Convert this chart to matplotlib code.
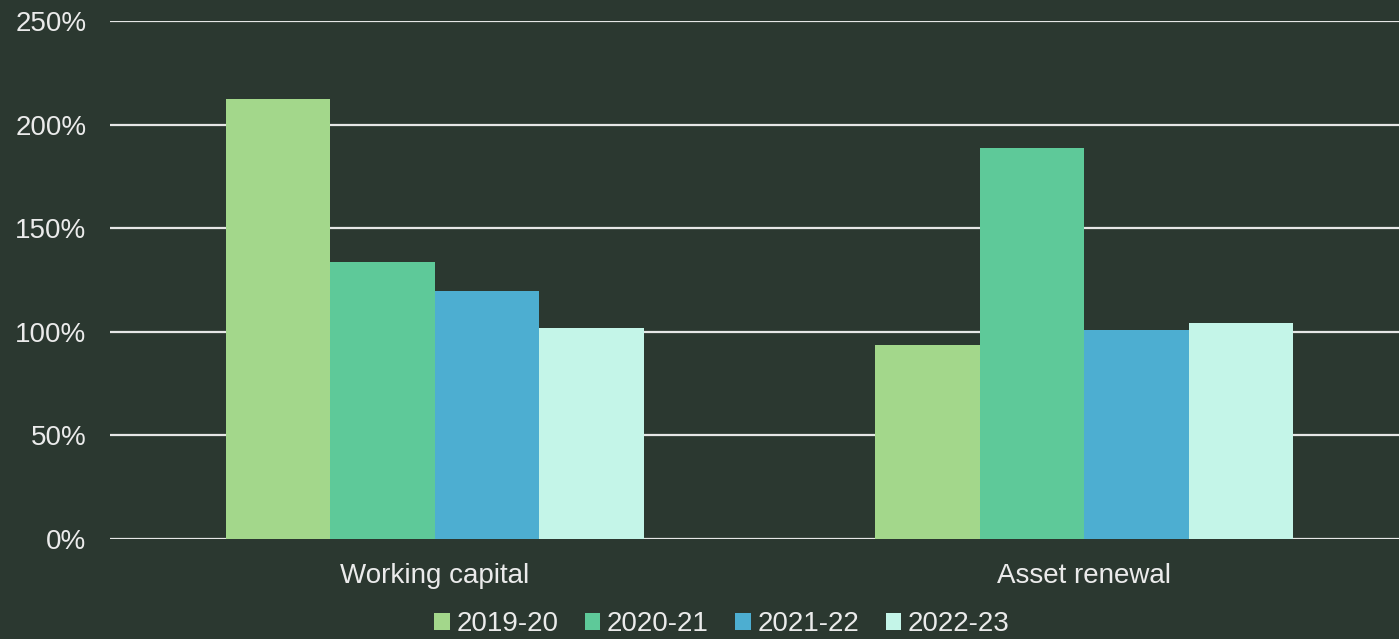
import numpy as np
import matplotlib
matplotlib.use("Agg")
import matplotlib.pyplot as plt

categories = ["Working capital", "Asset renewal"]
years = ["2019-20", "2020-21", "2021-22", "2022-23"]
values = {
    "2019-20": [212.5, 93.6],
    "2020-21": [133.8, 188.6],
    "2021-22": [119.8, 100.9],
    "2022-23": [101.7, 104.1],
}
colors = ["#a3d78b", "#5ec999", "#4daed1", "#c4f5e8"]
yticks = [0, 50, 100, 150, 200, 250]

bg = "#2b3830"
fg = "#ebebeb"
plt.rcParams["font.family"] = ["Liberation Sans", "DejaVu Sans"]

fig = plt.figure(figsize=(13.99, 6.39), dpi=100, facecolor=bg)
# axes runs past the right edge, as in the reference crop
ax = fig.add_axes([110 / 1399, 100 / 639, 1299 / 1399, 518 / 639])
ax.set_facecolor(bg)

x = np.arange(len(categories))
w = 0.161
for k, yr in enumerate(years):
    ax.bar(x + (k - 1.5) * w, values[yr], width=w, color=colors[k],
           label=yr, zorder=3)

ax.set_xlim(-0.5, 1.5)
ax.set_ylim(0, 250)
ax.set_yticks(yticks)
ax.set_yticklabels([f"{v}%" for v in yticks])
ax.set_xticks(x)
ax.set_xticklabels(categories)
ax.tick_params(axis="both", length=0, colors=fg, labelsize=20)
ax.tick_params(axis="y", pad=17)
ax.tick_params(axis="x", pad=17)
ax.yaxis.grid(True, color="#e6e6e6", lw=1.6, zorder=0)
for s in ax.spines.values():
    s.set_visible(False)

leg = fig.legend(loc="center", bbox_to_anchor=(722 / 1399, 1 - 624 / 639),
                 ncol=4, frameon=False, fontsize=20, handlelength=0.55,
                 handleheight=0.55, handletextpad=0.25, columnspacing=0.95,
                 labelcolor=fg)

fig.savefig("out.png", dpi=100, facecolor=bg)
